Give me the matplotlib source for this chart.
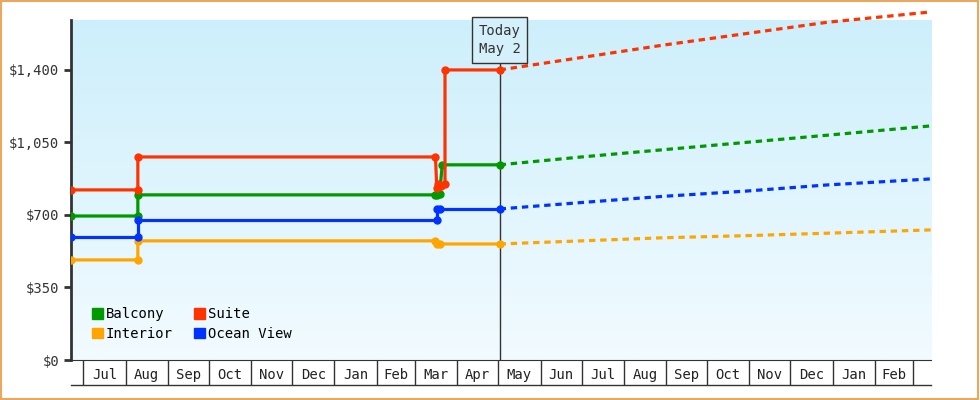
import matplotlib
matplotlib.use("Agg")
import matplotlib.pyplot as plt
import matplotlib.patches as mpatches
import numpy as np
from matplotlib.colors import LinearSegmentedColormap

plt.rcParams['font.family'] = ['DejaVu Sans Mono']

# days relative to today (May 2)
bal_x = [-314, -265, -265, -47, -46, -44, -42, 0]
bal_y = [695, 695, 797, 797, 797, 800, 942, 942]
sui_x = [-314, -265, -265, -47, -46, -45, -43, -40, -40, 0]
sui_y = [821, 821, 980, 980, 830, 850, 840, 850, 1400, 1400]
oce_x = [-314, -265, -265, -46, -46, -44, 0]
oce_y = [594, 594, 676, 676, 729, 729, 729]
int_x = [-314, -265, -265, -47, -46, -44, 0]
int_y = [483, 483, 575, 575, 560, 560, 560]

fc_x = [0, 60, 120, 180, 240, 316]
bal_f = [942, 980, 1015, 1050, 1085, 1130]
sui_f = [1400, 1460, 1520, 1575, 1630, 1680]
oce_f = [729, 760, 790, 815, 845, 874]
int_f = [560, 575, 590, 600, 612, 628]

month_starts = [-305, -274, -243, -213, -182, -152, -121, -90, -62, -31, -1, 30, 60, 91, 122, 152, 183, 213, 244, 275, 303]
month_labels = ['Jul', 'Aug', 'Sep', 'Oct', 'Nov', 'Dec', 'Jan', 'Feb', 'Mar', 'Apr', 'May', 'Jun', 'Jul', 'Aug', 'Sep', 'Oct', 'Nov', 'Dec', 'Jan', 'Feb']

fig = plt.figure(figsize=(9.8, 4), dpi=100)
fig.patch.set_facecolor('white')
fig.patches.append(plt.Rectangle((0.001, 0.002), 0.997, 0.995, transform=fig.transFigure,
                                 fill=False, edgecolor='#e8a860', lw=1.5))
ax = fig.add_axes([0.0724, 0.1, 0.8776, 0.85])
xmin, xmax, ymin, ymax = -314, 316, 0, 1641
cmap = LinearSegmentedColormap.from_list('g', ['#cdeffb', '#f2fbff'])
ax.imshow(np.linspace(0, 1, 256).reshape(-1, 1), cmap=cmap, aspect='auto',
          extent=[xmin, xmax, ymin, ymax], zorder=0)
ax.set_xlim(xmin, xmax)
ax.set_ylim(ymin, ymax)

series = [('Balcony', '#009900', bal_x, bal_y, bal_f),
          ('Interior', '#ffa500', int_x, int_y, int_f),
          ('Suite', '#ff3300', sui_x, sui_y, sui_f),
          ('Ocean View', '#0033ff', oce_x, oce_y, oce_f)]
hs, labels = [], []
for name, c, xs, ys, fs in series:
    ax.plot(xs, ys, color=c, lw=2.3, marker='o', ms=5, zorder=3)
    ax.plot(fc_x, fs, color=c, lw=2.3, ls=(0, (2, 1.5)), zorder=3, clip_on=False)
    hs.append(mpatches.Patch(color=c))
    labels.append(name)

ax.axvline(0, ymax=0.97, color='#333333', lw=1, zorder=2)
ax.text(0, 1545, 'Today\nMay 2', ha='center', va='center', fontsize=10, color='#333333',
        linespacing=1.4, zorder=5,
        bbox=dict(boxstyle='square,pad=0.5', fc='#d4f1fb', ec='#333333', lw=1))

ax.set_yticks([0, 350, 700, 1050, 1400])
ax.set_yticklabels(['$0', '$350', '$700', '$1,050', '$1,400'], fontsize=10, color='#333333')
ax.tick_params(axis='y', length=5, width=2, color='#333333')
ax.set_xticks(month_starts)
ax.set_xticklabels([])
ax.tick_params(axis='x', which='major', length=18, width=1, color='#333333', direction='out')
mids = [(month_starts[i] + month_starts[i + 1]) / 2 for i in range(len(month_labels))]
ax.set_xticks(mids, minor=True)
ax.set_xticklabels(month_labels, minor=True, fontsize=10, color='#222222')
ax.tick_params(axis='x', which='minor', length=0, pad=6)
for s in ['top', 'right']:
    ax.spines[s].set_visible(False)
ax.spines['left'].set_linewidth(2)
ax.spines['left'].set_color('#333333')
ax.spines['bottom'].set_color('#333333')
fig.add_artist(plt.Line2D([0.0724, 0.95], [0.0375, 0.0375], color='#333333', lw=1))

ax.legend(hs, labels, loc='lower left', ncol=2, frameon=False, fontsize=10,
          handlelength=0.8, handleheight=0.8, handletextpad=0.2, columnspacing=1.5,
          labelspacing=0.4, bbox_to_anchor=(0.01, 0.02))
fig.savefig('out.png', dpi=100)
